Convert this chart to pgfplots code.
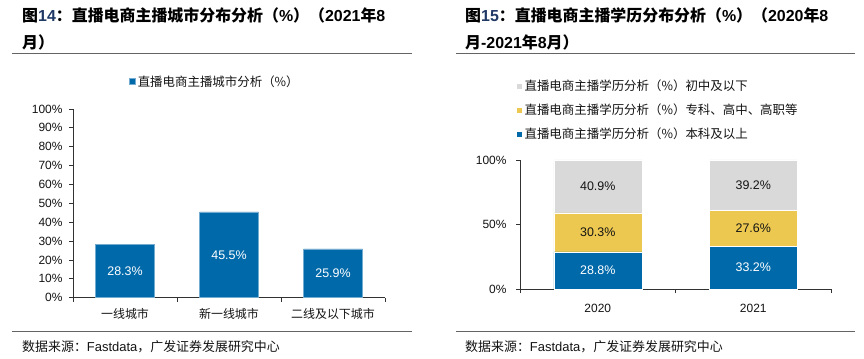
\documentclass[border=0pt]{standalone}
\usepackage{pgfplots}
\pgfplotsset{compat=1.18}
\usepackage{fontspec}
\setmainfont{Liberation Sans}
\newfontfamily\cjk{Noto Sans CJK SC}
\definecolor{cblue}{RGB}{0,105,170}
\definecolor{cyellow}{RGB}{236,200,80}
\definecolor{cgray}{RGB}{217,217,217}
\definecolor{navy}{RGB}{31,56,100}
\definecolor{axgray}{RGB}{50,50,50}
\definecolor{rulegray}{RGB}{100,100,100}
\definecolor{txt}{RGB}{20,20,20}
\pgfplotsset{
  common/.style={
    scale only axis,
    axis x line*=bottom, axis y line*=left,
    axis line style={axgray, line width=0.9bp},
    tick style={axgray, line width=0.9bp},
    tick align=outside, major tick length=4bp,
    /pgf/number format/assume math mode=true,
    yticklabel={\pgfmathprintnumber{\tick}\%},
    ticklabel style={font=\fontsize{12}{14}\selectfont, text=txt},
    extra x tick style={major tick length=0pt},
    legend style={draw=none, fill=none, text=txt, legend cell align=left},
  },
  sq/.style={legend image code/.code={\fill[##1] (0bp,-3bp) rectangle (6bp,3bp);}},
}
\begin{document}
\begin{tikzpicture}[x=1bp,y=1bp]
\path[use as bounding box, fill=white] (0,0) rectangle (864,358);
% ---------- titles ----------
\node[anchor=base west, inner sep=0, font=\fontsize{16}{18}\selectfont\bfseries] at (22,337)
  {{\cjk 图}\textcolor{navy}{14}{\cjk ：直播电商主播城市分布分析（}\%{\cjk ）（}2021{\cjk 年}8};
\node[anchor=base west, inner sep=0, font=\fontsize{16}{18}\selectfont\bfseries] at (22,310)
  {{\cjk 月）}};
\node[anchor=base west, inner sep=0, font=\fontsize{16}{18}\selectfont\bfseries] at (465,337)
  {{\cjk 图}\textcolor{navy}{15}{\cjk ：直播电商主播学历分布分析（}\%{\cjk ）（}2020{\cjk 年}8};
\node[anchor=base west, inner sep=0, font=\fontsize{16}{18}\selectfont\bfseries] at (465,310)
  {{\cjk 月}-2021{\cjk 年}8{\cjk 月）}};
\draw[rulegray, line width=1bp] (12,305) -- (412,305);
\draw[rulegray, line width=1bp] (456,305) -- (855,305);
\draw[rulegray, line width=1bp] (12,27) -- (412,27);
\draw[rulegray, line width=1bp] (456,27) -- (855,27);
\node[anchor=base west, inner sep=0, font=\fontsize{13}{15}\selectfont, text=txt] at (22,6.5)
  {{\cjk 数据来源：}Fastdata{\cjk ，广发证券发展研究中心}};
\node[anchor=base west, inner sep=0, font=\fontsize{13}{15}\selectfont, text=txt] at (465,6.5)
  {{\cjk 数据来源：}Fastdata{\cjk ，广发证券发展研究中心}};

% ---------- left chart ----------
\begin{axis}[common,
  at={(73bp,60.3bp)}, anchor=south west,
  width=312bp, height=188.7bp,
  xmin=-0.5, xmax=2.5, ymin=0, ymax=100,
  ytick={0,10,...,100},
  yticklabel style={xshift=-3bp},
  xtick={-0.5,0.5,1.5,2.5}, xticklabels={},
  extra x ticks={0,1,2},
  extra x tick labels={{\cjk 一线城市},{\cjk 新一线城市},{\cjk 二线及以下城市}},
  extra x tick style={xticklabel style={yshift=-7bp}},
  ybar, bar width=59bp,
  legend style={at={(axis description cs:0.455,1.145)}, anchor=center,
    font=\cjk\fontsize{12.5}{14}\selectfont},
]
\addplot[sq, fill=cblue, draw=cblue!55!white, line width=0.5bp,
  nodes near coords={\pgfmathprintnumber[fixed,precision=1,fixed zerofill]{\pgfplotspointmeta}\%},
  visualization depends on=y \as \rawy,
  every node near coord/.append style={anchor=center, text=white,
    font=\fontsize{12.5}{14}\selectfont, shift={(axis direction cs:0,-\rawy/2)}},
] coordinates {(0,28.3) (1,45.5) (2,25.9)};
\addlegendentry{直播电商主播城市分析（\%）}
\end{axis}

% ---------- right chart ----------
\begin{axis}[common,
  at={(520bp,69bp)}, anchor=south west,
  width=311bp, height=129bp,
  xmin=-0.5, xmax=1.5, ymin=0, ymax=100,
  ytick={0,50,100},
  yticklabel style={xshift=-6bp},
  xtick={-0.5,0.5,1.5}, xticklabels={},
  extra x ticks={0,1},
  extra x tick labels={2020,2021},
  extra x tick style={xticklabel style={yshift=-12bp}},
  ybar stacked, bar width=88bp,
  reverse legend,
  legend style={at={(axis description cs:-0.0225,1.3876)}, anchor=west,
    font=\cjk\fontsize{12.5}{14}\selectfont, row sep=8bp},
]
\addplot[sq, fill=cblue, draw=white, line width=0.4bp,
  nodes near coords={\pgfmathprintnumber[fixed,precision=1,fixed zerofill]{\pgfplotspointmeta}\%},
  every node near coord/.append style={anchor=center, text=white,
    font=\fontsize{12.5}{14}\selectfont}]
  coordinates {(0,28.8) (1,33.2)};
\addlegendentry{直播电商主播学历分析（\%）本科及以上}
\addplot[sq, fill=cyellow, draw=white, line width=0.4bp,
  nodes near coords={\pgfmathprintnumber[fixed,precision=1,fixed zerofill]{\pgfplotspointmeta}\%},
  every node near coord/.append style={anchor=center, text=txt,
    font=\fontsize{12.5}{14}\selectfont}]
  coordinates {(0,30.3) (1,27.6)};
\addlegendentry{直播电商主播学历分析（\%）专科、高中、高职等}
\addplot[sq, fill=cgray, draw=white, line width=0.4bp,
  nodes near coords={\pgfmathprintnumber[fixed,precision=1,fixed zerofill]{\pgfplotspointmeta}\%},
  every node near coord/.append style={anchor=center, text=txt,
    font=\fontsize{12.5}{14}\selectfont}]
  coordinates {(0,40.9) (1,39.2)};
\addlegendentry{直播电商主播学历分析（\%）初中及以下}
\end{axis}
\end{tikzpicture}
\end{document}
